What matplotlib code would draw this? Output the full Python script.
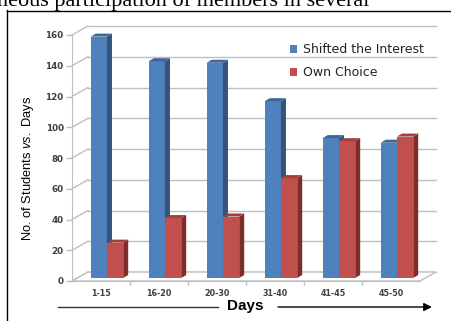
import matplotlib
matplotlib.use("Agg")
import matplotlib.pyplot as plt
from matplotlib.patches import Polygon, Patch
from matplotlib.lines import Line2D

# Data
days = ["1-15", "16-20", "20-30", "31-40", "41-45", "45-50"]
shifted_interest = [157, 141, 140, 115, 91, 88]
own_choice = [23, 39, 40, 65, 89, 92]
y_ticks = [0, 20, 40, 60, 80, 100, 120, 140, 160]

BLUE = {"front": "#4f81bd", "side": "#34547f", "top": "#3e6698"}
RED = {"front": "#c0504d", "side": "#7d2d2b", "top": "#a3403d"}
GRID = "#bfbfbf"
TEXT = "#404040"

# fake 3d geometry (data units)
WALL_DX, WALL_DY = 0.276, 5.85
BAR_SHIFT_X, BAR_SHIFT_Y = 0.103, 1.95
BAR_DX, BAR_DY = 0.086, 1.95
BAR_W = 0.28

plt.rcParams["mathtext.fontset"] = "custom"
plt.rcParams["mathtext.it"] = "Liberation Sans:italic"
plt.rcParams["mathtext.rm"] = "Liberation Sans"

fig = plt.figure(figsize=(4.51, 3.21), dpi=100)
W, H = 451, 321
ax = fig.add_axes([72 / W, 40 / H, 348 / W, 246 / H])
ax.set_xlim(-0.5, 5.5)
ax.set_ylim(0, 160)
ax.patch.set_alpha(0)

# back wall gridlines
x0, x1 = -0.5, len(days) - 0.5
for v in y_ticks:
    ax.plot([x0 + WALL_DX, x1 + WALL_DX], [v + WALL_DY, v + WALL_DY],
            color=GRID, lw=1, clip_on=False, zorder=1)
    # side wall lines
    ax.plot([x0, x0 + WALL_DX], [v, v + WALL_DY],
            color=GRID, lw=1, clip_on=False, zorder=1)

# floor
floor = Polygon([(x0, 0), (x1, 0), (x1 + WALL_DX, WALL_DY), (x0 + WALL_DX, WALL_DY)],
                closed=True, facecolor="white", edgecolor=GRID, lw=1,
                clip_on=False, zorder=1.5)
ax.add_patch(floor)


def draw_bar(left, value, colors, z):
    b = left + BAR_SHIFT_X
    y0 = BAR_SHIFT_Y
    ax.bar(b, value, width=BAR_W, bottom=y0, align="edge",
           color=colors["front"], lw=0, zorder=z, clip_on=False)
    r = b + BAR_W
    side = Polygon([(r, y0), (r, y0 + value), (r + BAR_DX, y0 + value + BAR_DY),
                    (r + BAR_DX, y0 + BAR_DY)], closed=True,
                   facecolor=colors["side"], lw=0, zorder=z, clip_on=False)
    top = Polygon([(b, y0 + value), (r, y0 + value), (r + BAR_DX, y0 + value + BAR_DY),
                   (b + BAR_DX, y0 + value + BAR_DY)], closed=True,
                  facecolor=colors["top"], lw=0, zorder=z, clip_on=False)
    ax.add_patch(side)
    ax.add_patch(top)


for i, (s, o) in enumerate(zip(shifted_interest, own_choice)):
    draw_bar(i - BAR_W, s, BLUE, 3 + i * 2)
    draw_bar(i, o, RED, 4 + i * 2)

# axes styling
for name in ["top", "right"]:
    ax.spines[name].set_visible(False)
ax.spines["left"].set_color(GRID)
ax.spines["bottom"].set_color(GRID)
ax.spines["left"].set_zorder(2)
ax.spines["bottom"].set_zorder(2)
ax.set_yticks(y_ticks)
ax.set_yticklabels([str(v) for v in y_ticks])
ax.set_xticks(range(len(days)))
ax.set_xticklabels(days)
ax.set_xticks([i + 0.5 for i in range(len(days) - 1)], minor=True)
ax.tick_params(axis="y", length=4, width=1, color=GRID, pad=2,
               labelsize=6.3, labelcolor=TEXT)
ax.tick_params(axis="x", which="major", length=0, pad=6,
               labelsize=5.8, labelcolor=TEXT)
ax.tick_params(axis="x", which="minor", length=3, width=1, color=GRID)
for lab in ax.get_xticklabels() + ax.get_yticklabels():
    lab.set_fontweight("bold")

ax.set_ylabel(r"No. of Students $\it{vs.}$ Days", family="Liberation Sans",
              fontsize=9.3, color="black")
ax.yaxis.set_label_coords(-0.104, 0.46)

handles = [Patch(facecolor=BLUE["front"], label="Shifted the Interest"),
           Patch(facecolor=RED["front"], label="Own Choice")]
fig.legend(handles=handles, loc="upper left", bbox_to_anchor=(279 / W, 1 - 32 / H),
           frameon=False, prop={"family": "DejaVu Sans", "size": 9},
           handlelength=0.55, handleheight=0.55, handletextpad=0.5,
           labelspacing=0.8, labelcolor="#222222")

# x-axis title with arrow
fig.text(245 / W, 1 - 306 / H, "Days", ha="center", va="center",
         family="Liberation Sans", fontsize=11, fontweight="bold")
fig.add_artist(Line2D([58 / W, 218 / W], [1 - 307 / H] * 2, color="#333333", lw=1))
ax.annotate("", xy=(432 / W, 1 - 307 / H), xytext=(278 / W, 1 - 307 / H),
            xycoords="figure fraction", textcoords="figure fraction",
            arrowprops=dict(arrowstyle="-|>", color="black", lw=1,
                            mutation_scale=12, shrinkA=0, shrinkB=0))

# frame around the chart
fig.add_artist(Line2D([7.5 / W, 7.5 / W], [0, 1 - 10 / H], color="black", lw=1))
fig.add_artist(Line2D([7.5 / W, 1], [1 - 10.5 / H] * 2, color="black", lw=1))

# running caption above the frame
fig.text(-3 / W, 1 - 6 / H, "neous participation of members in several",
         ha="left", va="baseline", family="Liberation Serif", fontsize=16)

fig.savefig("out.png", dpi=100)
